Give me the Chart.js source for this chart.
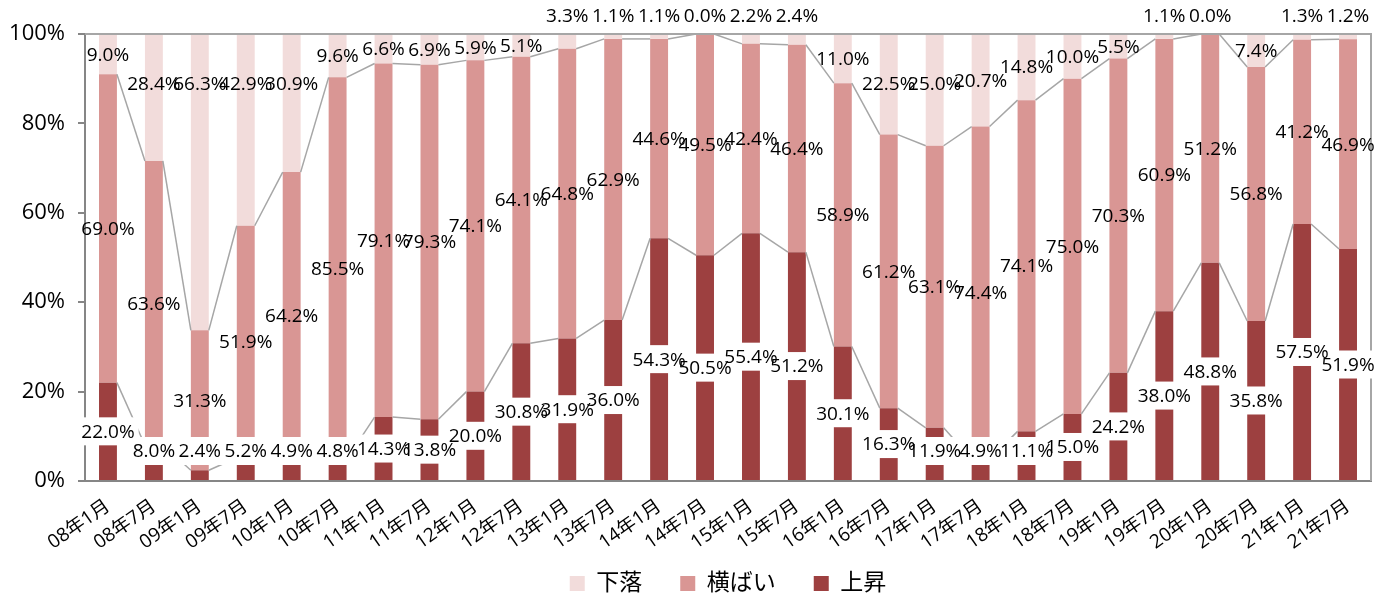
<!DOCTYPE html>
<html>
<head>
<meta charset="utf-8">
<script src="https://cdn.jsdelivr.net/npm/chart.js@4.4.0/dist/chart.umd.min.js"></script>
<style>
  html, body { margin: 0; padding: 0; background: #fff; }
</style>
</head>
<body>
<canvas id="grafico" width="1386" height="596"></canvas>
<script>
const categorias = ['08年1月', '08年7月', '09年1月', '09年7月', '10年1月', '10年7月', '11年1月', '11年7月',
    '12年1月', '12年7月', '13年1月', '13年7月', '14年1月', '14年7月', '15年1月', '15年7月',
    '16年1月', '16年7月', '17年1月', '17年7月', '18年1月', '18年7月', '19年1月', '19年7月',
    '20年1月', '20年7月', '21年1月', '21年7月'];

const joushou = [22.0, 8.0, 2.4, 5.2, 4.9, 4.8, 14.3, 13.8, 20.0, 30.8, 31.9, 36.0, 54.3, 50.5,
    55.4, 51.2, 30.1, 16.3, 11.9, 4.9, 11.1, 15.0, 24.2, 38.0, 48.8, 35.8, 57.5, 51.9];
const yokobai = [69.0, 63.6, 31.3, 51.9, 64.2, 85.5, 79.1, 79.3, 74.1, 64.1, 64.8, 62.9, 44.6, 49.5,
    42.4, 46.4, 58.9, 61.2, 63.1, 74.4, 74.1, 75.0, 70.3, 60.9, 51.2, 56.8, 41.2, 46.9];
const geraku = [9.0, 28.4, 66.3, 42.9, 30.9, 9.6, 6.6, 6.9, 5.9, 5.1, 3.3, 1.1, 1.1, 0.0,
    2.2, 2.4, 11.0, 22.5, 25.0, 20.7, 14.8, 10.0, 5.5, 1.1, 0.0, 7.4, 1.3, 1.2];

const fonte = '"Open Sans", "Noto Sans CJK JP", sans-serif';

// 系列線 + データラベル + 枠線
const desenhoExtra = {
    id: 'desenhoExtra',
    afterLayout(chart) {
        // 凡例はプロット領域の中央にそろえる
        const lg = chart.legend;
        const d = (chart.chartArea.left + chart.chartArea.right) / 2 - (lg.left + lg.right) / 2;
        lg.left += d;
        lg.right += d;
        // x軸ラベルが切れないように
        chart.scales.x.bottom = chart.height;
    },
    afterDatasetsDraw(chart) {
        const ctx = chart.ctx;
        const { left, right, top, bottom } = chart.chartArea;
        ctx.save();

        // 系列線
        ctx.strokeStyle = '#a6a6a6';
        ctx.lineWidth = 1.5;
        [0, 1].forEach(d => {
            const barras = chart.getDatasetMeta(d).data;
            for (let i = 0; i < barras.length - 1; i++) {
                const a = barras[i], b = barras[i + 1];
                ctx.beginPath();
                ctx.moveTo(a.x + a.width / 2, a.y);
                ctx.lineTo(b.x - b.width / 2, b.y);
                ctx.stroke();
            }
        });

        // 上と右の枠
        ctx.lineWidth = 2;
        ctx.beginPath();
        ctx.moveTo(left, top);
        ctx.lineTo(right, top);
        ctx.lineTo(right, bottom);
        ctx.stroke();

        // ラベル位置
        ctx.font = '19px ' + fonte;
        ctx.textAlign = 'center';
        ctx.textBaseline = 'middle';
        const rotulos = [];
        chart.data.datasets.forEach((ds, d) => {
            chart.getDatasetMeta(d).data.forEach((bar, i) => {
                const v = ds.data[i];
                let y = (bar.y + bar.base) / 2;
                if (d === 0) y = Math.min(y, bottom - 30);
                if (d === 2) y = v < 4 ? top - 18 : Math.min(y, top + 50);
                rotulos.push({ d, x: bar.x, y, txt: v.toFixed(1) + '%' });
            });
        });

        // 上昇の白い背景を先に、文字は後から
        ctx.fillStyle = '#fff';
        rotulos.filter(r => r.d === 0).forEach(r => {
            const w = ctx.measureText(r.txt).width + 8;
            ctx.fillRect(r.x - w / 2, r.y - 14, w, 28);
        });
        ctx.fillStyle = '#000';
        rotulos.forEach(r => ctx.fillText(r.txt, r.x, r.y + 1));
        ctx.restore();
    }
};

new Chart(document.getElementById('grafico').getContext('2d'), {
    type: 'bar',
    data: {
        labels: categorias,
        datasets: [
            { label: '上昇', data: joushou, backgroundColor: '#9d4040' },
            { label: '横ばい', data: yokobai, backgroundColor: '#d99694' },
            { label: '下落', data: geraku, backgroundColor: '#f2dcdb' }
        ]
    },
    options: {
        responsive: false,
        animation: false,
        datasets: { bar: { barPercentage: 0.39, categoryPercentage: 1 } },
        layout: { padding: { top: 34, right: 15, bottom: -9, left: 0 } },
        scales: {
            x: {
                stacked: true,
                grid: { display: false, drawTicks: false },
                border: { color: '#868686', width: 2 },
                ticks: {
                    autoSkip: false, minRotation: 35, maxRotation: 35, padding: 14,
                    color: '#000', font: { family: fonte, size: 19 }
                },
                afterFit(scale) { scale.height = 53; }
            },
            y: {
                stacked: true,
                min: 0, max: 100,
                grid: { drawOnChartArea: false, drawTicks: true, tickLength: 7, color: '#868686', lineWidth: 2 },
                border: { color: '#868686', width: 2 },
                ticks: {
                    stepSize: 20, padding: 13, color: '#000',
                    font: { family: fonte, size: 22 },
                    callback: v => v + '%'
                },
                afterFit(scale) { scale.width = 85; }
            }
        },
        plugins: {
            tooltip: { enabled: false },
            legend: {
                position: 'bottom',
                reverse: true,
                labels: {
                    boxWidth: 15, boxHeight: 15, padding: 38, color: '#000',
                    font: { family: fonte, size: 23 }
                }
            }
        }
    },
    plugins: [desenhoExtra]
});
</script>
</body>
</html>
